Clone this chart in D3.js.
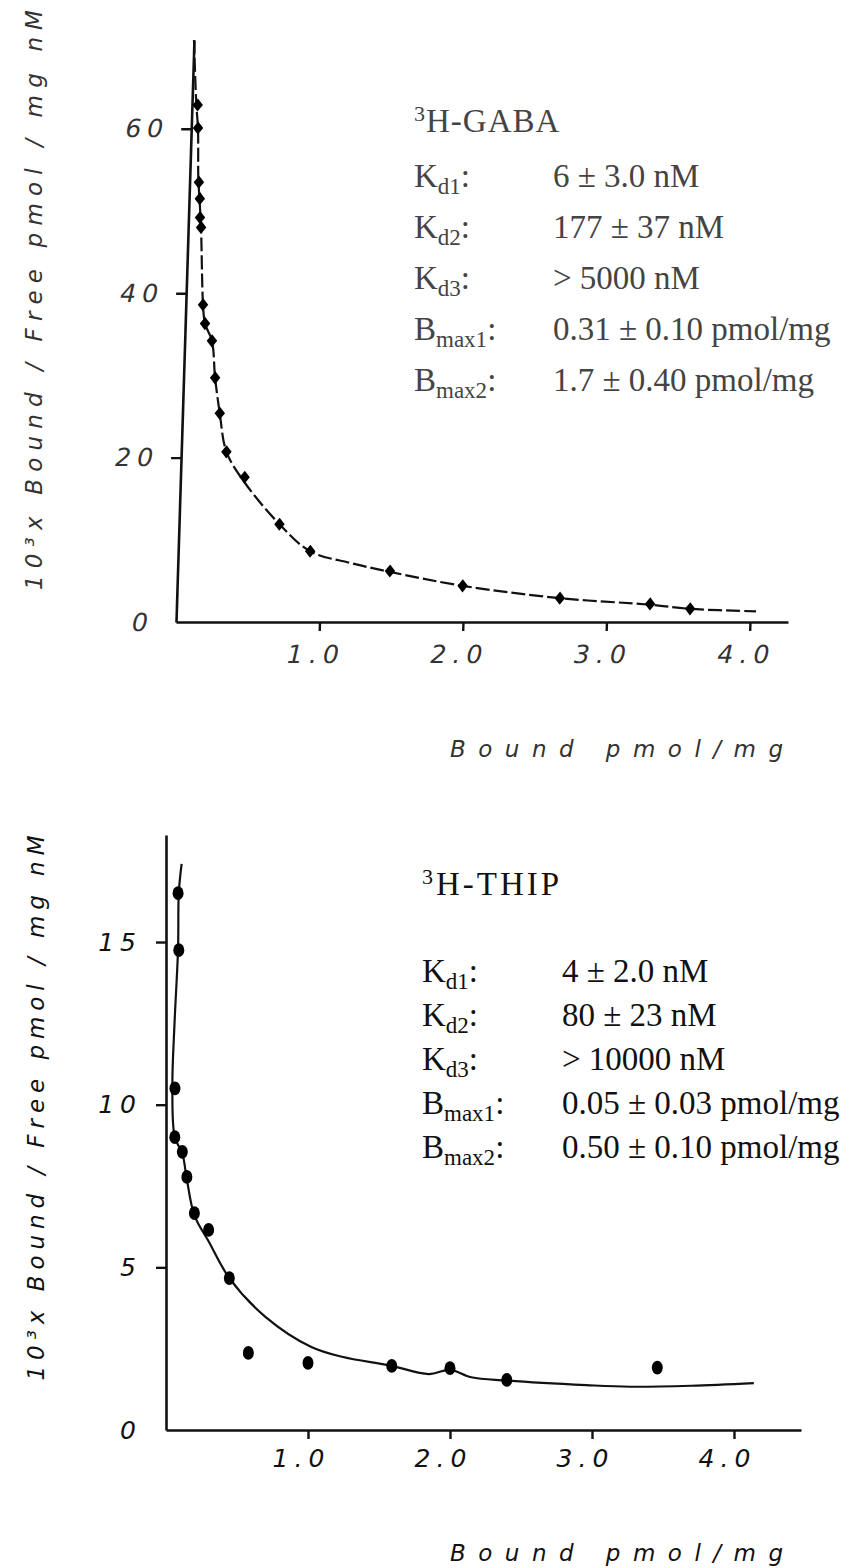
<!DOCTYPE html>
<html><head><meta charset="utf-8">
<script src="https://cdn.jsdelivr.net/npm/d3@7"></script>
<style>
body{margin:0;background:#fff;}
svg{display:block}
</style></head><body>
<svg id="c" width="862" height="1568"></svg>
<script>
// ---------- Panel A : 3H-GABA ----------
const gabaBound = [0.04,0.047,0.065,0.075,0.08,0.09,0.12,0.138,0.19,0.22,0.26,0.315,0.447,0.70,0.92,1.48,1.99,2.67,3.30,3.58];
const gabaRatio = [62.9,60.1,53.5,51.5,49.2,48.0,38.6,36.3,34.2,29.7,25.4,20.7,17.6,11.9,8.6,6.2,4.4,2.9,2.2,1.6];
const gabaFitBound = [0.0,0.03,0.047,0.06,0.075,0.09,0.12,0.138,0.19,0.22,0.26,0.315,0.447,0.70,0.92,1.2,1.48,1.99,2.67,3.3,3.58,4.04];
const gabaFitRatio = [70.8,63,60,54,51,47.8,38.6,36.3,34.2,29.7,25.4,20.7,17.0,11.9,8.6,7.2,6.1,4.4,2.9,2.1,1.6,1.3];
const gabaXTicks = [1,2,3,4];
const gabaXTickLabels = ["1.0","2.0","3.0","4.0"];
const gabaYTicks = [0,20,40,60];
const gabaYTickLabels = ["0","20","40","60"];
const gabaTitle = ["3","H-GABA"];
const gabaParamMain = ["K","K","K","B","B"];
const gabaParamSub = ["d1","d2","d3","max1","max2"];
const gabaParamValue = ["6 ± 3.0 nM","177 ± 37 nM","> 5000 nM","0.31 ± 0.10 pmol/mg","1.7 ± 0.40 pmol/mg"];

// ---------- Panel B : 3H-THIP ----------
const thipBound = [0.085,0.09,0.063,0.062,0.115,0.147,0.20,0.30,0.446,0.58,1.00,1.59,2.00,2.40,3.46];
const thipRatio = [16.5,14.75,10.5,9.0,8.55,7.78,6.67,6.15,4.67,2.37,2.06,1.97,1.90,1.54,1.92];
const thipFitBound = [0.11,0.09,0.085,0.06,0.045,0.062,0.115,0.147,0.20,0.30,0.446,0.70,1.02,1.24,1.58,1.85,2.0,2.15,2.4,2.96,3.27,3.7,4.14];
const thipFitRatio = [17.4,16.5,14.8,12.5,10.6,9.0,8.5,7.7,6.6,5.8,4.67,3.48,2.56,2.25,1.98,1.72,1.85,1.62,1.52,1.38,1.33,1.36,1.44];
const thipXTicks = [1,2,3,4];
const thipXTickLabels = ["1.0","2.0","3.0","4.0"];
const thipYTicks = [0,5,10,15];
const thipYTickLabels = ["0","5","10","15"];
const thipTitle = ["3","H-THIP"];
const thipParamMain = ["K","K","K","B","B"];
const thipParamSub = ["d1","d2","d3","max1","max2"];
const thipParamValue = ["4 ± 2.0 nM","80 ± 23 nM","> 10000 nM","0.05 ± 0.03 pmol/mg","0.50 ± 0.10 pmol/mg"];

const yAxisTitle = "10³x Bound / Free  pmol / mg nM";
const xAxisTitle = "Bound  pmol/mg";

const svg = d3.select("#c");

function panel(o) {
  const x = d3.scaleLinear().domain([0, o.xMax]).range([o.x0, o.x1]);
  const y = d3.scaleLinear().domain([0, o.yMax]).range([o.y0, o.y1]);
  const g = svg.append("g")
    .attr("transform", `translate(0,${o.y0}) skewX(${-o.skew}) translate(0,${-o.y0})`);

  // axes
  const xa = g.append("g").attr("transform", `translate(0,${o.y0})`)
    .call(d3.axisBottom(x).tickValues(o.xTicks).tickSize(9).tickSizeOuter(0)
      .tickPadding(o.xPad).tickFormat((d,i)=>o.xLabels[i]));
  const ya = g.append("g").attr("transform", `translate(${o.x0},0)`)
    .call(d3.axisLeft(y).tickValues(o.yTicks).tickSize(10).tickSizeOuter(0)
      .tickPadding(o.yPad).tickFormat((d,i)=>o.yLabels[i]));
  [xa, ya].forEach(a => {
    a.select(".domain").attr("stroke", "#111").attr("stroke-width", 2.6);
    a.selectAll(".tick line").attr("stroke", "#111").attr("stroke-width", 2.4);
    a.selectAll(".tick text")
      .attr("font-family", "DejaVu Sans").attr("font-style", "italic")
      .attr("font-size", 25).attr("letter-spacing", 6).attr("fill", o.labelFill);
  });
  xa.selectAll(".tick text").attr("dx", o.xLabelDx);
  ya.selectAll(".tick").filter(d => d === 0).select("line").remove();

  // fitted curve
  const fit = o.fitX.map((v,i)=>[v, o.fitY[i]]);
  g.append("path").datum(fit)
    .attr("fill","none").attr("stroke","#111").attr("stroke-width",2.2)
    .attr("stroke-dasharray", o.dash)
    .attr("d", d3.line().x(d=>x(d[0])).y(d=>y(d[1])).curve(d3.curveCatmullRom.alpha(0.5)));

  // points
  const pts = o.px.map((v,i)=>[v, o.py[i]]);
  g.selectAll(".pt").data(pts).join("path")
    .attr("transform", d=>`translate(${x(d[0])},${y(d[1])}) scale(1,1.25)`)
    .attr("d", d3.symbol(o.symbol, o.symSize))
    .attr("fill","#000");

  // legend
  const lg = svg.append("g").attr("fill", o.legendFill)
    .attr("font-family","Liberation Serif");
  const t = lg.append("text").attr("x", o.lx).attr("y", o.titleY).attr("font-size", 33)
    .attr("letter-spacing", o.titleSpacing);
  t.append("tspan").attr("font-size", 22).attr("dy", -11).text(o.title[0]);
  t.append("tspan").attr("dy", 11).text(o.title[1]);
  o.main.forEach((m,i)=>{
    const yy = o.rowY0 + i*o.rowDy;
    const tx = lg.append("text").attr("x", o.lx).attr("y", yy).attr("font-size", 33);
    tx.append("tspan").text(m);
    tx.append("tspan").attr("font-size", 23).attr("dy", 7).text(o.sub[i]);
    tx.append("tspan").attr("dy", -7).text(":");
    lg.append("text").attr("x", o.vx).attr("y", yy).attr("font-size", 33).text(o.values[i]);
  });

  // axis titles
  svg.append("text").attr("transform", `translate(${o.ytX},${o.ytY}) rotate(-90)`)
    .attr("text-anchor","middle").attr("font-family","DejaVu Sans").attr("font-style","italic")
    .attr("font-size", 23).attr("fill", o.labelFill)
    .attr("textLength", o.ytLen).attr("lengthAdjust","spacing").text(yAxisTitle);
  svg.append("text").attr("x", o.xtX).attr("y", o.xtY)
    .attr("font-family","DejaVu Sans").attr("font-style","italic")
    .attr("font-size", 23).attr("fill", o.labelFill)
    .attr("textLength", o.xtLen).attr("lengthAdjust","spacing").text(xAxisTitle);
}

panel({
  x0:176, x1:788, xMax:4.265, y0:622, y1:40, yMax:70.8, skew:1.77,
  xTicks:gabaXTicks, xLabels:gabaXTickLabels, yTicks:gabaYTicks, yLabels:gabaYTickLabels,
  xPad:14, yPad:12, xLabelDx:-3, labelFill:"#333",
  fitX:gabaFitBound, fitY:gabaFitRatio, dash:"14,4",
  px:gabaBound, py:gabaRatio, symbol:d3.symbolDiamond2, symSize:70,
  legendFill:"#444", lx:414, vx:553, titleY:132, titleSpacing:1, rowY0:187, rowDy:51,
  title:gabaTitle, main:gabaParamMain, sub:gabaParamSub, values:gabaParamValue,
  ytX:42, ytY:300, ytLen:580, xtX:450, xtY:757, xtLen:333
});

panel({
  x0:166, x1:801, xMax:4.472, y0:1430, y1:835, yMax:18.29, skew:0,
  xTicks:thipXTicks, xLabels:thipXTickLabels, yTicks:thipYTicks, yLabels:thipYTickLabels,
  xPad:10, yPad:14, xLabelDx:-7, labelFill:"#111",
  fitX:thipFitBound, fitY:thipFitRatio, dash:null,
  px:thipBound, py:thipRatio, symbol:d3.symbolCircle, symSize:95,
  legendFill:"#111", lx:422, vx:562, titleY:895, titleSpacing:3, rowY0:982, rowDy:44,
  title:thipTitle, main:thipParamMain, sub:thipParamSub, values:thipParamValue,
  ytX:44, ytY:1108, ytLen:545, xtX:450, xtY:1561, xtLen:333
});
</script>
</body></html>
